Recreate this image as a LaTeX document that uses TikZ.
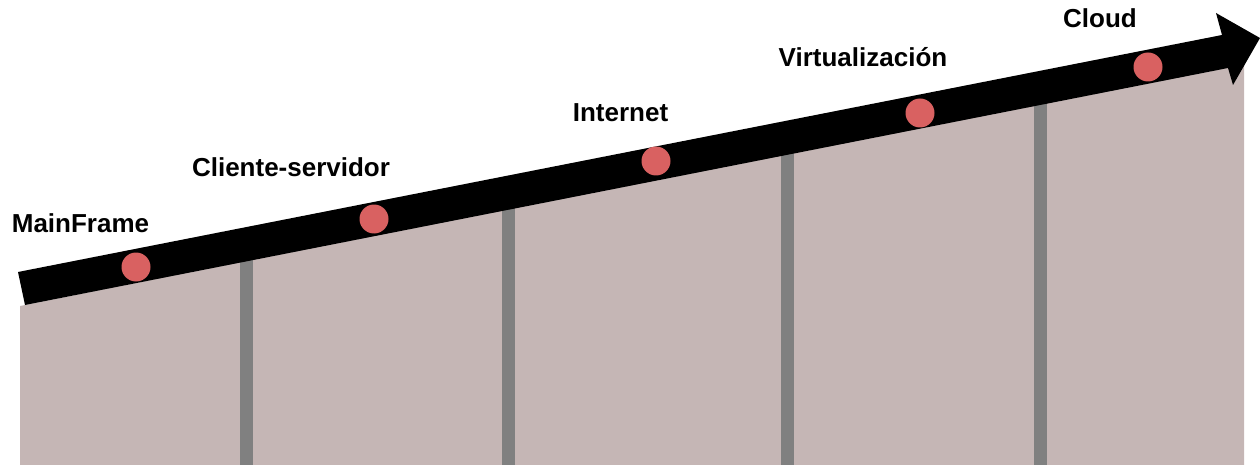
\documentclass[tikz,border=0pt]{standalone}
\usepackage{fontspec}
\setmainfont{Liberation Sans}
\definecolor{pinkfill}{RGB}{197,182,181}
\definecolor{bargray}{RGB}{128,128,128}
\definecolor{dotred}{RGB}{217,97,97}
\tikzset{
  bar/.style={fill=bargray, draw=none},
  dot/.style={circle, fill=dotred, draw=none, minimum size=29pt, inner sep=0pt},
  lbl/.style={font=\bfseries\fontsize{26}{30}\selectfont, anchor=base, inner sep=0pt}
}
\begin{document}
\begin{tikzpicture}[x=1pt,y=-1pt]
\useasboundingbox (0,0) rectangle (1260,465);
% background area
\fill[pinkfill] (20,306) -- (1244,62) -- (1244,465) -- (20,465) -- cycle;
% vertical bars (tops hidden under the arrow shaft)
\foreach \bx in {246,508,787,1040}
  \fill[bar] (\bx-6.5,{305-0.197*(\bx-25)-8}) rectangle (\bx+6.5,465);
% arrow
\fill[black] (18,272) -- (1222,35) -- (1216,13) -- (1260,38) -- (1233,85) -- (1228,68) -- (25,305) -- cycle;
% dots
\node[dot] (d1) at (136,267) {};
\node[dot] (d2) at (374,219) {};
\node[dot] (d3) at (656,161) {};
\node[dot] (d4) at (920,113) {};
\node[dot] (d5) at (1148,67) {};
% labels
\node[lbl] (l1) at (80.5,233) {MainFrame};
\node[lbl] (l2) at (291,177) {Cliente-servidor};
\node[lbl] (l3) at (620.5,122) {Internet};
\node[lbl] (l4) at (863,67) {Virtualización};
\node[lbl] (l5) at (1100,28) {Cloud};
\end{tikzpicture}
\end{document}
